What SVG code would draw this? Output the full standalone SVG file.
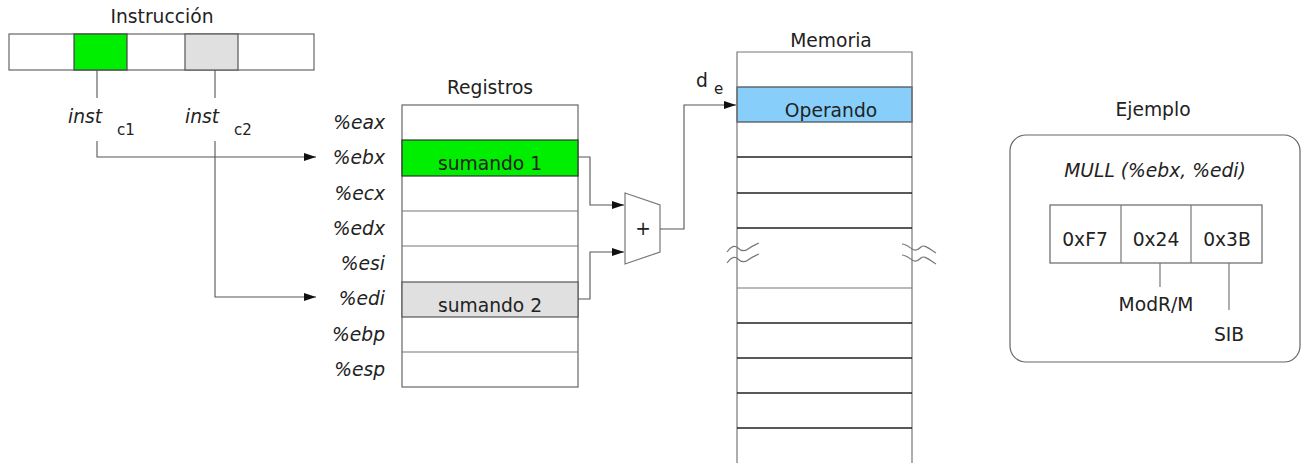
<svg xmlns="http://www.w3.org/2000/svg" width="1301" height="463" viewBox="0 0 1301 463">
<style>
text{font-family:"DejaVu Sans",Verdana,sans-serif;font-size:18.7px;fill:#222}
.it{font-style:italic}
.c{text-anchor:middle}
.r{text-anchor:end}
.sub{font-size:15px}
.cell{fill:#fff;stroke:#666;stroke-width:1.2}
.ln{fill:none;stroke:#777;stroke-width:1.2}
.dk{stroke:#222;stroke-width:1.3}
.conn{fill:none;stroke:#555;stroke-width:1.1}
</style>
<defs>
<marker id="ah" markerWidth="12" markerHeight="8" refX="12" refY="4" orient="auto" markerUnits="userSpaceOnUse">
<path d="M0,0 L12,4 L0,8 z" fill="#111"/>
</marker>
</defs>
<rect width="1301" height="463" fill="#fff"/>

<g id="instruccion">
<text class="c" x="162" y="23">Instrucción</text>
<rect class="cell" x="9" y="34" width="305" height="36"/>
<rect x="74" y="34" width="53" height="36" fill="#00ee00" stroke="#444" stroke-width="1.2"/>
<rect x="185" y="34" width="53" height="36" fill="#e0e0e0" stroke="#555" stroke-width="1.2"/>
<text class="it" x="68" y="123">inst</text>
<text class="sub" x="117" y="135">c1</text>
<text class="it" x="185" y="123">inst</text>
<text class="sub" x="234" y="135">c2</text>
</g>

<g id="registros">
<text class="c" x="490" y="94">Registros</text>
<rect class="cell" x="402" y="105" width="176" height="282"/>
<rect x="402" y="140" width="176" height="36" fill="#00ee00" stroke="#333" stroke-width="1.2"/>
<rect x="402" y="282" width="176" height="35" fill="#e0e0e0" stroke="#555" stroke-width="1.2"/>
<line class="ln" x1="402" y1="211" x2="578" y2="211" stroke="#555"/>
<line class="ln" x1="402" y1="246" x2="578" y2="246" stroke="#555"/>
<line class="ln" x1="402" y1="352" x2="578" y2="352" stroke="#555"/>
<text class="c" x="490" y="170">sumando 1</text>
<text class="c" x="490" y="312">sumando 2</text>
<text class="it r" x="385" y="129">%eax</text>
<text class="it r" x="385" y="164">%ebx</text>
<text class="it r" x="385" y="200">%ecx</text>
<text class="it r" x="385" y="235">%edx</text>
<text class="it r" x="385" y="270">%esi</text>
<text class="it r" x="385" y="305">%edi</text>
<text class="it r" x="385" y="341">%ebp</text>
<text class="it r" x="385" y="376">%esp</text>
</g>

<g id="sumador">
<path d="M625,193 L660,205 L660,252 L625,264 z" fill="#fff" stroke="#777" stroke-width="1.2"/>
<text class="c" x="643" y="235">+</text>
</g>

<g id="memoria">
<text class="c" x="831" y="47">Memoria</text>
<rect x="737" y="87" width="175" height="35" fill="#87cefa" stroke="#555" stroke-width="1.3"/>
<text class="c" x="831" y="117">Operando</text>
<path class="ln" d="M737,463 V52 H912 V463"/>
<line class="ln dk" x1="737" y1="157" x2="912" y2="157"/>
<line class="ln dk" x1="737" y1="193" x2="912" y2="193"/>
<line class="ln dk" x1="737" y1="228" x2="912" y2="228"/>
<line class="ln" x1="737" y1="288" x2="912" y2="288"/>
<line class="ln dk" x1="737" y1="323" x2="912" y2="323"/>
<line class="ln dk" x1="737" y1="358" x2="912" y2="358"/>
<line class="ln dk" x1="737" y1="393" x2="912" y2="393"/>
<line class="ln dk" x1="737" y1="428" x2="912" y2="428"/>
<path class="ln" d="M727,252 C731,246 735,245 738,248 S744,252 748,249 S755,245 759,243 M727,263 C731,257 735,256 738,259 S744,263 748,260 S755,256 759,254"/>
<path class="ln" d="M902,244 C906,244 909,247 912,249 S918,250 921,247 S928,248 936,253 M902,255 C906,255 909,258 912,260 S918,261 921,258 S928,259 936,264"/>
<text x="696" y="87">d</text>
<text class="sub" x="714" y="94">e</text>
</g>

<g id="ejemplo">
<text class="c" x="1153" y="116">Ejemplo</text>
<rect x="1010" y="135" width="290" height="227" rx="16" fill="#fff" stroke="#666" stroke-width="1.2"/>
<text class="it c" x="1155" y="177">MULL (%ebx, %edi)</text>
<rect class="cell" x="1050" y="205" width="212" height="58"/>
<line class="ln" x1="1121" y1="205" x2="1121" y2="263" stroke="#444"/>
<line class="ln" x1="1191" y1="205" x2="1191" y2="263" stroke="#444"/>
<text class="c" x="1085" y="246">0xF7</text>
<text class="c" x="1156" y="246">0x24</text>
<text class="c" x="1227" y="246">0x3B</text>
<line class="ln" x1="1160" y1="263" x2="1160" y2="287"/>
<line class="ln" x1="1229" y1="263" x2="1229" y2="310"/>
<text class="c" x="1156" y="311">ModR/M</text>
<text class="c" x="1229" y="341">SIB</text>
</g>

<g id="conectores">
<line class="conn" x1="97" y1="70" x2="97" y2="98"/>
<path class="conn" d="M97,141 V157 H316" marker-end="url(#ah)"/>
<line class="conn" x1="215" y1="70" x2="215" y2="98"/>
<path class="conn" d="M215,141 V297 H316" marker-end="url(#ah)"/>
<path class="conn" d="M578,157 H590 V205 H624" marker-end="url(#ah)"/>
<path class="conn" d="M578,299 H590 V252 H624" marker-end="url(#ah)"/>
<path class="conn" d="M660,229 H684 V105 H736" marker-end="url(#ah)"/>
</g>
</svg>
